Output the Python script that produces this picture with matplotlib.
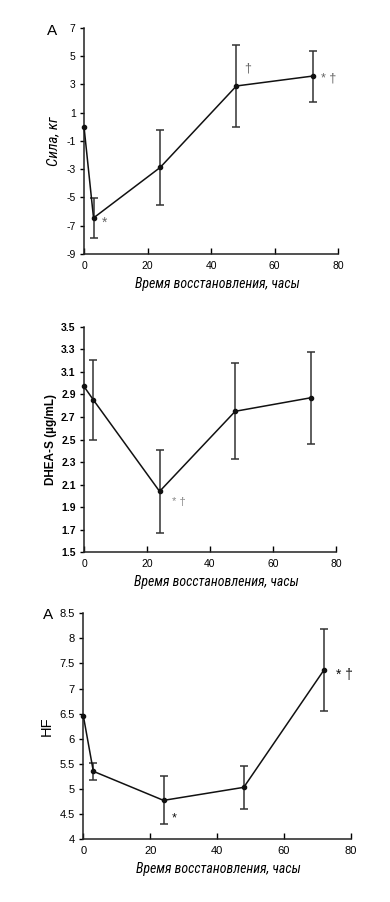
import matplotlib
matplotlib.use("Agg")
import matplotlib.pyplot as plt
from matplotlib import font_manager

plt.rcParams["axes.unicode_minus"] = False

hours = [0, 3, 24, 48, 72]

force_mean = [0.0, -6.45, -2.88, 2.88, 3.58]
force_err = [0.0, 1.43, 2.65, 2.88, 1.80]

dhea_mean = [2.97, 2.85, 2.04, 2.75, 2.87]
dhea_err = [0.0, 0.355, 0.365, 0.425, 0.41]

hf_mean = [6.46, 5.35, 4.77, 5.03, 7.37]
hf_err = [0.0, 0.17, 0.48, 0.425, 0.825]

force_ticks = [-9, -7, -5, -3, -1, 1, 3, 5, 7]
dhea_ticks = [1.5, 1.7, 1.9, 2.1, 2.3, 2.5, 2.7, 2.9, 3.1, 3.3, 3.5]
hf_ticks = [4, 4.5, 5, 5.5, 6, 6.5, 7, 7.5, 8, 8.5]
x_ticks = [0, 20, 40, 60, 80]

xlabel = "Время восстановления, часы"

avail = sorted({f.name for f in font_manager.fontManager.ttflist})
narrow = None
for cand in ["Liberation Sans Narrow", "Roboto Condensed", "Open Sans Condensed",
             "DejaVu Sans Condensed", "Noto Sans Condensed"]:
    if cand in avail:
        narrow = cand
        break
if narrow is None:
    narrow = "Roboto" if "Roboto" in avail else "Liberation Sans"
sans = "Liberation Sans"

W, H = 390, 902
fig = plt.figure(figsize=(W / 100, H / 100), dpi=100)


def make_axes(l, r, t, b):
    return fig.add_axes([l / W, 1 - b / H, (r - l) / W, (b - t) / H])


def style(ax, ylim, yticks, fs, xl_pos, ylabels=None):
    ax.set_xlim(0, 80)
    ax.set_ylim(*ylim)
    for s in ("top", "right"):
        ax.spines[s].set_visible(False)
    for s in ("left", "bottom"):
        ax.spines[s].set_linewidth(1.1)
        ax.spines[s].set_color("#222222")
    ax.set_xticks(x_ticks)
    ax.set_yticks(yticks)
    if ylabels is not None:
        ax.set_yticklabels(ylabels)
    ax.tick_params(axis="y", direction="out", length=3, width=1, labelsize=fs, pad=3)
    ax.tick_params(axis="x", direction="in", length=4, width=1, labelsize=fs, pad=5)
    for lab in ax.get_xticklabels() + ax.get_yticklabels():
        lab.set_family(sans)
    ax.set_xlabel(xlabel, family=narrow, style="italic", fontsize=10, labelpad=4)
    ax.xaxis.set_label_coords(xl_pos, -0.1)


def draw(ax, x, y, e):
    ax.plot(x, y, color="#111111", lw=1.1, marker="o", ms=3, clip_on=False, zorder=3)
    xs = [xi for xi, ei in zip(x, e) if ei > 0]
    ys = [yi for yi, ei in zip(y, e) if ei > 0]
    es = [ei for ei in e if ei > 0]
    ax.errorbar(xs, ys, yerr=es, fmt="none", ecolor="#333333", elinewidth=1.1,
                capsize=3, capthick=1.1, clip_on=False)


# Panel 1
ax1 = make_axes(84, 338, 27.7, 254)
draw(ax1, hours, force_mean, force_err)
style(ax1, (-9, 7), force_ticks, 7.5, 0.524)
ax1.set_ylabel("Сила, кг", family=narrow, style="italic", fontsize=11, labelpad=4)
ax1.text(5.5, -7.1, "*", color="#666666", fontsize=10, family=sans)
ax1.text(50.5, 3.9, "†", color="#666666", fontsize=9, family=sans)
ax1.text(74.5, 3.2, "* †", color="#666666", fontsize=9, family=sans)
fig.text(52 / W, 1 - 31 / H, "A", fontsize=11, family=sans, va="center", ha="center")

# Panel 2
ax2 = make_axes(84, 336, 326.7, 552.3)
draw(ax2, hours, dhea_mean, dhea_err)
style(ax2, (1.5, 3.5), dhea_ticks, 7.5, 0.524, [f"{t:.1f}" for t in dhea_ticks])
for lab in ax2.get_yticklabels():
    lab.set_fontweight("bold")
ax2.set_ylabel("DHEA-S (µg/mL)", family=sans, fontweight="bold", fontsize=8.5, labelpad=3)
ax2.text(28, 1.92, "* †", color="#888888", fontsize=8, family=sans)

# Panel 3
ax3 = make_axes(83.3, 350.7, 613.3, 839)
draw(ax3, hours, hf_mean, hf_err)
style(ax3, (4, 8.5), hf_ticks, 8, 0.504,
      ["4", "4.5", "5", "5.5", "6", "6.5", "7", "7.5", "8", "8.5"])
ax3.set_ylabel("HF", family=sans, fontsize=10.5, labelpad=4)
ax3.text(26.5, 4.36, "*", color="#111111", fontsize=9, family=sans)
ax3.text(75.5, 7.2, "* †", color="#111111", fontsize=10, family=sans)
fig.text(48 / W, 1 - 615 / H, "A", fontsize=11, family=sans, va="center", ha="center")

fig.savefig("out.png", dpi=100, facecolor="white")
